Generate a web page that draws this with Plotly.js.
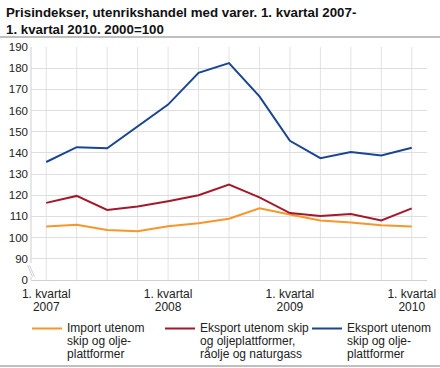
<!DOCTYPE html>
<html>
<head>
<meta charset="utf-8">
<script src="https://cdn.plot.ly/plotly-3.0.1.min.js"></script>
<style>html,body{margin:0;padding:0;background:#fff;}#chart{width:440px;height:368px;}</style>
</head>
<body>
<div id="chart"></div>
<script>
// Quarters 1. kvartal 2007 .. 1. kvartal 2010
var quarters = [0,1,2,3,4,5,6,7,8,9,10,11,12];
var tickPositions = [0,4,8,12];
var tickLabels = [["1. kvartal","2007"],["1. kvartal","2008"],["1. kvartal","2009"],["1. kvartal","2010"]];

var importUtenom = [105.3,106.1,103.6,103.0,105.4,106.8,108.9,113.9,110.9,108.1,107.2,105.9,105.2];
var eksportRaolje = [116.4,119.7,113.1,114.7,117.2,120.0,125.0,119.0,111.6,110.2,111.1,108.1,113.8];
var eksportUtenom = [135.7,142.7,142.2,152.7,162.8,177.8,182.4,166.7,145.7,137.5,140.4,138.8,142.4];

var seriesNames = [
  ["Import utenom","skip og olje-","plattformer"],
  ["Eksport utenom skip","og oljeplattformer,","råolje og naturgass"],
  ["Eksport utenom","skip og olje-","plattformer"]
];
var yTickVals = [80,90,100,110,120,130,140,150,160,170,180,190];
var yTickText = ["0","90","100","110","120","130","140","150","160","170","180","190"];
var titleLines = ["Prisindekser, utenrikshandel med varer. 1. kvartal 2007-","1. kvartal 2010. 2000=100"];

var colors = ["#f7962a","#a3192c","#1a4591"];
var font = '"Liberation Sans", Arial, sans-serif';

function spanLines(lines, px){
  return lines.map(function(l){ return '<span style="font-size:'+px+'px">'+l+'</span>'; }).join('<br>');
}

var legendIds = ['legend','legend2','legend3'];
var traces = [importUtenom, eksportRaolje, eksportUtenom].map(function(v,i){
  return {x: quarters, y: v, type:'scatter', mode:'lines', name: spanLines(seriesNames[i],12),
          legend: legendIds[i], line:{color:colors[i], width:2}};
});

function legendAt(xp){
  return {orientation:'h', x:xp, xanchor:'left', y:-0.152, yanchor:'top', valign:'top',
          font:{size:10, color:'#222'}, itemwidth:30, bgcolor:'rgba(0,0,0,0)'};
}

var layout = {
  width:440, height:368,
  margin:{l:31, r:13, t:47, b:88, autoexpand:false},
  paper_bgcolor:'#fff', plot_bgcolor:'#fff',
  font:{family:font, size:12, color:'#222'},
  xaxis:{range:[-0.5,12.5], tickmode:'array', tickvals:tickPositions,
         ticktext:tickLabels.map(function(t){return spanLines(t,12);}),
         showgrid:false, zeroline:false, showline:true, linecolor:'#cfcfcf', linewidth:1,
         ticks:'', tickfont:{size:9.8, color:'#222'}, ticklabelstandoff:5},
  yaxis:{range:[80,190], tickmode:'array', tickvals:yTickVals, ticktext:yTickText,
         showgrid:true, gridcolor:'#dedede', gridwidth:1, zeroline:false,
         showline:false, ticks:'', tickfont:{size:11.5, color:'#222'}, ticklabelstandoff:2},
  showlegend:true,
  legend: legendAt(-0.01),
  legend2: legendAt((160-31)/396),
  legend3: legendAt((307-31)/396),
  annotations:[{text:'<b>'+titleLines.join('<br>')+'</b>', xref:'paper', yref:'paper',
    x:(4-31)/396, xanchor:'left', y:(280-3)/233, yanchor:'top', showarrow:false, align:'left',
    font:{family:font, size:13.3, color:'#111'}}],
  shapes:[]
};

// vertical grid lines at every quarter
quarters.forEach(function(q){
  layout.shapes.push({type:'line', xref:'x', yref:'paper', x0:q, x1:q, y0:0, y1:1,
    line:{color:'#e2e2e2', width:1}, layer:'below'});
});
// y-axis line (with break)
layout.shapes.push({type:'line', xref:'paper', yref:'y', x0:0, x1:0, y0:88, y1:190, line:{color:'#cfcfcf', width:1}, layer:'below'});
layout.shapes.push({type:'line', xref:'paper', yref:'y', x0:0, x1:0, y0:80, y1:81.5, line:{color:'#cfcfcf', width:1}, layer:'below'});
// break marks
layout.shapes.push({type:'line', xref:'paper', yref:'y', x0:-0.009, x1:0.004, y0:87, y1:81.5, line:{color:'#cfcfcf', width:1}});
layout.shapes.push({type:'line', xref:'paper', yref:'y', x0:-0.004, x1:0.009, y0:87, y1:81.5, line:{color:'#cfcfcf', width:1}});
// separator lines top and bottom
layout.shapes.push({type:'line', xref:'paper', yref:'paper', x0:-31/396, x1:409/396, y0:(280-37)/233, y1:(280-37)/233, line:{color:'#aaaaaa', width:1.5}});
layout.shapes.push({type:'line', xref:'paper', yref:'paper', x0:-31/396, x1:409/396, y0:-(366-280)/233, y1:-(366-280)/233, line:{color:'#aaaaaa', width:1.5}});

Plotly.newPlot('chart', traces, layout, {staticPlot:true, displayModeBar:false});
</script>
</body>
</html>
